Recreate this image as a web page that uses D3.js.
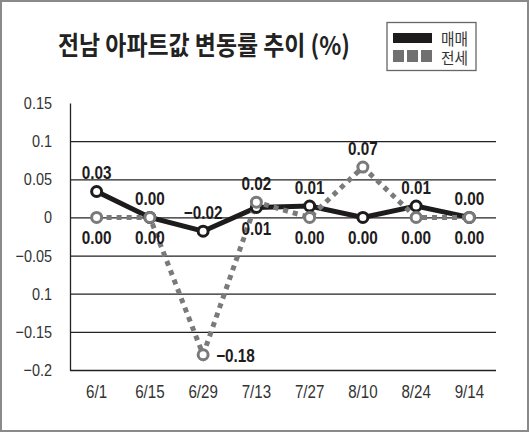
<!DOCTYPE html>
<html>
<head>
<meta charset="utf-8">
<script src="https://cdn.jsdelivr.net/npm/d3@7"></script>
<style>
    body { margin: 0; background: #fff; }
    svg { display: block; }
    .tick text { fill: #333; }
</style>
</head>
<body>
<svg id="chart" width="530" height="433"></svg>
<script>
const categories = ['6/1', '6/15', '6/29', '7/13', '7/27', '8/10', '8/24', '9/14'];
const maemae = [0.034, 0, -0.018, 0.013, 0.015, 0, 0.015, 0];
const jeonse = [0, 0, -0.18, 0.02, 0, 0.066, 0, 0];
const yTicks = [0.15, 0.1, 0.05, 0, -0.05, -0.1, -0.15, -0.2];
const yTickLabels = ['0.15', '0.1', '0.05', '0', '−0.05', '0.1', '−0.15', '−0.2'];
// value labels drawn above / below each category
const aboveText = ['0.03', '0.00', '−0.02', '0.02', '0.01', '0.07', '0.01', '0.00'];
const aboveSeries = ['m', 'm', 'm', 'j', 'm', 'j', 'm', 'm'];
const belowText = ['0.00', '0.00', null, '0.01', '0.00', '0.00', '0.00', '0.00'];
const belowSeries = ['j', 'j', null, 'm', 'j', 'm', 'j', 'j'];
const sideText = [null, null, '−0.18', null, null, null, null, null];

const numFont = '"Liberation Sans Narrow", "Arial Narrow", "Liberation Sans", sans-serif';
const krFont = '"Noto Sans CJK KR", "Noto Sans", sans-serif';

// squeeze text horizontally (the original uses a condensed face)
function narrow(sel, f) {
    sel.each(function () {
        const w = this.getComputedTextLength();
        d3.select(this).attr('textLength', w * f).attr('lengthAdjust', 'spacingAndGlyphs');
    });
}

const svg = d3.select('#chart');

// outer frame
svg.append('rect').
attr('x', 1).attr('y', 1).
attr('width', 527).attr('height', 430).
attr('fill', '#fff').
attr('stroke', '#8a8a8a').
attr('stroke-width', 2);

const x = d3.scaleBand(categories, [70, 496]);
const y = d3.scaleLinear([-0.2, 0.15], [370, 103]);
const cx = i => x(categories[i]) + x.bandwidth() / 2;

// Y axis with gridlines
const yAxis = d3.axisLeft(y).tickValues(yTicks).
tickFormat((d, i) => yTickLabels[i]).
tickSizeInner(-(496 - 70)).
tickSizeOuter(0).
tickPadding(18);
const gy = svg.append('g').attr('transform', 'translate(70,0)').call(yAxis);
gy.select('.domain').attr('stroke', '#222').attr('stroke-width', 1.3);
gy.selectAll('.tick line').attr('stroke', '#222').attr('stroke-width', 1.3).
filter(d => d === 0.15).remove();
gy.selectAll('.tick text').
attr('font-family', numFont).
attr('font-size', 17).
call(narrow, 0.85);

// X axis labels
const xAxis = d3.axisBottom(x).tickSize(0).tickPadding(15);
const gx = svg.append('g').attr('transform', 'translate(0,370)').call(xAxis);
gx.select('.domain').remove();
gx.selectAll('.tick text').
attr('font-family', numFont).
attr('font-size', 18).
call(narrow, 0.84);

const line = d3.line().x((d, i) => cx(i)).y(d => y(d));

// 매매 line
svg.append('path').
attr('d', line(maemae)).
attr('fill', 'none').
attr('stroke', '#1e1b1c').
attr('stroke-width', 5);

// 전세 line
svg.append('path').
attr('d', line(jeonse)).
attr('fill', 'none').
attr('stroke', '#7a7a7a').
attr('stroke-width', 5).
attr('stroke-dasharray', '5,5');

svg.append('g').selectAll('circle').
data(maemae).
enter().
append('circle').
attr('cx', (d, i) => cx(i)).
attr('cy', d => y(d)).
attr('r', 5).
attr('fill', '#fff').
attr('stroke', '#1e1b1c').
attr('stroke-width', 3);

svg.append('g').selectAll('circle').
data(jeonse).
enter().
append('circle').
attr('cx', (d, i) => cx(i)).
attr('cy', d => y(d)).
attr('r', 5).
attr('fill', '#fff').
attr('stroke', '#7a7a7a').
attr('stroke-width', 3);

// value labels
const seriesVal = (s, i) => (s === 'm' ? maemae[i] : jeonse[i]);
const withIndex = arr => arr.map((t, i) => ({ t, i })).filter(d => d.t !== null);
const labels = svg.append('g').
attr('font-family', numFont).
attr('font-size', 18).
attr('font-weight', 'bold').
attr('fill', '#1e1b1c');

labels.selectAll('.above').
data(withIndex(aboveText)).
enter().
append('text').
attr('text-anchor', 'middle').
attr('x', d => cx(d.i)).
attr('y', d => y(seriesVal(aboveSeries[d.i], d.i)) - 12).
text(d => d.t);

labels.selectAll('.below').
data(withIndex(belowText)).
enter().
append('text').
attr('text-anchor', 'middle').
attr('x', d => cx(d.i)).
attr('y', d => y(seriesVal(belowSeries[d.i], d.i)) + 27).
text(d => d.t);

labels.selectAll('.side').
data(withIndex(sideText)).
enter().
append('text').
attr('x', d => cx(d.i) + 13).
attr('y', d => y(jeonse[d.i]) + 7).
text(d => d.t);

labels.selectAll('text').call(narrow, 0.85);

// title
svg.append('text').
attr('x', 58).
attr('y', 55).
attr('font-family', krFont).
attr('font-weight', 'bold').
attr('font-size', 26).
attr('fill', '#222').
attr('textLength', 292).
attr('lengthAdjust', 'spacingAndGlyphs').
text('전남 아파트값 변동률 추이 (%)');

// legend
const legend = svg.append('g');
legend.append('rect').
attr('x', 387).attr('y', 22.5).
attr('width', 89).attr('height', 48).
attr('fill', '#fff').
attr('stroke', '#666').
attr('stroke-width', 1.3);
legend.append('rect').
attr('x', 393).attr('y', 33).
attr('width', 39).attr('height', 10).
attr('fill', '#1e1b1c');
legend.selectAll('.sq').
data([0, 1, 2]).
enter().
append('rect').
attr('x', d => 393 + d * 14).
attr('y', 50).
attr('width', 11).attr('height', 12).
attr('fill', '#707070');
legend.selectAll('.lt').
data(['매매', '전세']).
enter().
append('text').
attr('x', 441).
attr('y', (d, i) => 44.5 + i * 19).
attr('font-family', krFont).
attr('font-size', 15.5).
attr('fill', '#333').
attr('textLength', 27).
attr('lengthAdjust', 'spacingAndGlyphs').
text(d => d);
</script>
</body>
</html>
